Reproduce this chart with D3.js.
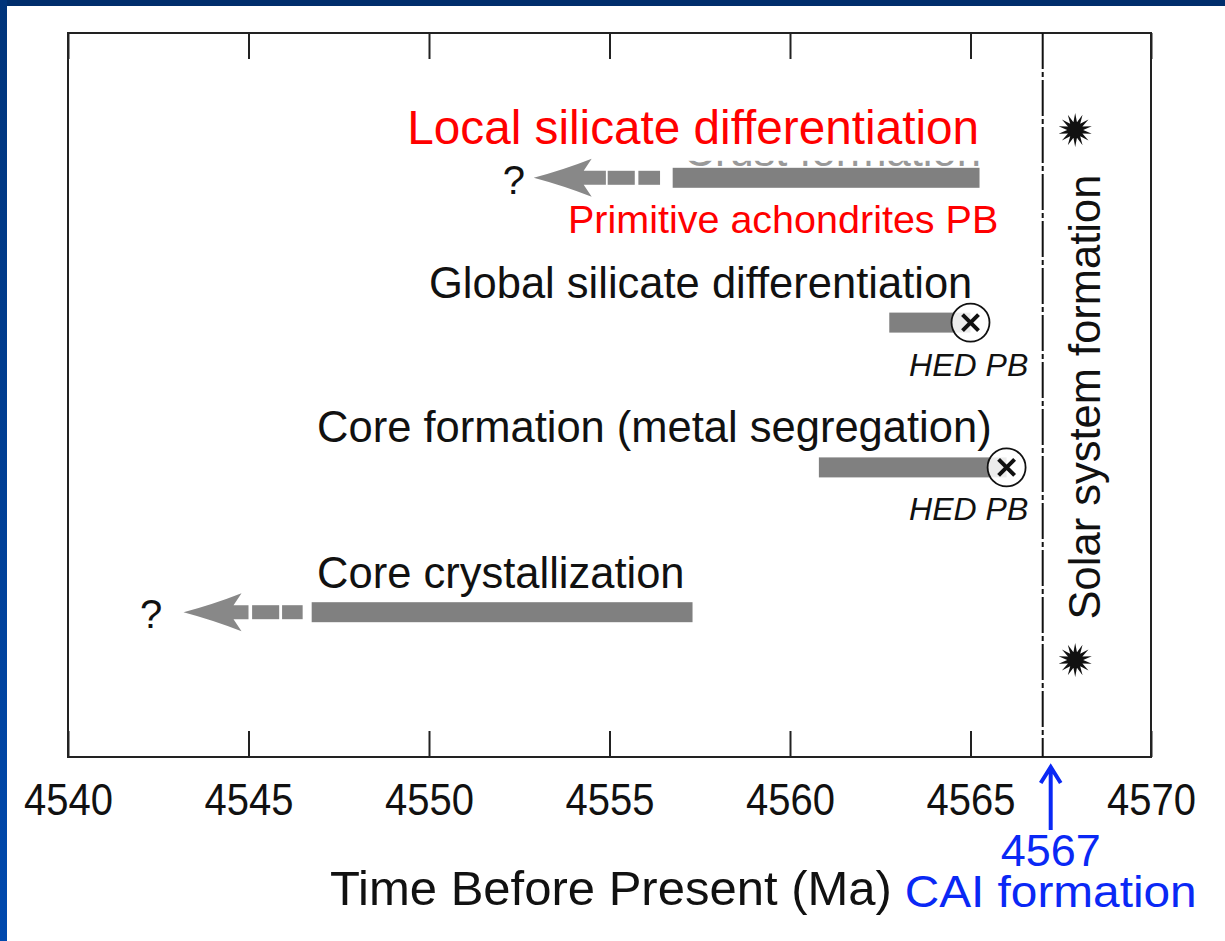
<!DOCTYPE html>
<html>
<head>
<meta charset="utf-8">
<script src="https://cdn.jsdelivr.net/npm/d3@7"></script>
<style>
  body { margin: 0; background: #fff; }
  svg { display: block; }
  text { font-family: "Liberation Sans", Arial, sans-serif; }
</style>
</head>
<body>
<div id="chart"></div>
<script>
// time axis (Ma before present)
var tickValues = [4540, 4545, 4550, 4555, 4560, 4565, 4570];
var caiAge = 4567;

// rows of the timeline, top to bottom
var rowNames = ["Crust formation", "Global silicate differentiation",
                "Core formation (metal segregation)", "Core crystallization"];
var rowIndex = [1, 2, 3, 4];
var barStart = [4556.75, 4562.75, 4560.8, 4546.75];
var barEnd = [4565.25, 4565.0, 4566.0, 4557.3];
var labelStart = [4557.05, 4550.0, 4546.9, 4546.9];
var labelLift = [12, 25, 25, 24];

// open ended (?) rows: arrow tip, end of arrow shaft, dashes, question mark
var arrowRows = [0, 3];
var arrowTip = [4552.9, 4543.2];
var arrowShaftEnd = [4554.9, 4545.0];
var dashes = [[[4554.95, 4555.7], [4555.8, 4556.4]],
              [[4545.1, 4545.85], [4545.93, 4546.5]]];
var questionAt = [4552.35, 4542.3];

// HED parent body markers
var hedRows = [1, 2];
var hedAge = [4565.0, 4566.0];

// starbursts on the solar system formation column
var starAge = 4567.9;
var starRow = [0.67, 4.33];

var width = 1225;
var height = 941;
var padding = {top: 33, right: 74, bottom: 184, left: 68};

var svg = d3.select("#chart").append("svg")
    .attr("width", width)
    .attr("height", height);

// slide border
var grad = svg.append("defs").append("linearGradient")
    .attr("id", "edge").attr("x1", 0).attr("y1", 0).attr("x2", 0).attr("y2", 1);
grad.append("stop").attr("offset", "0%").attr("stop-color", "#00347a");
grad.append("stop").attr("offset", "100%").attr("stop-color", "#0049ae");
svg.append("rect").attr("x", 0).attr("y", 0).attr("width", width).attr("height", 6)
    .attr("fill", "#002e6c");
svg.append("rect").attr("x", 0).attr("y", 0).attr("width", 7).attr("height", height)
    .attr("fill", "url(#edge)");

var x = d3.scaleLinear()
    .domain([4540, 4570])
    .range([padding.left, width - padding.right]);

var y = d3.scaleLinear()
    .domain([0, 5])
    .range([padding.top, height - padding.bottom]);

var plotBottom = height - padding.bottom;

// axes, ticks pointing inward
svg.append("g")
    .attr("transform", "translate(0," + plotBottom + ")")
    .call(d3.axisBottom(x).tickValues(tickValues).tickSizeInner(-26).tickSizeOuter(0)
        .tickPadding(23).tickFormat(d3.format("d")))
    .call(function (g) {
        g.select(".domain").remove();
        g.selectAll(".tick line").attr("stroke", "#222").attr("stroke-width", 2);
        g.selectAll(".tick text").attr("font-size", "40px").attr("fill", "#111")
            .attr("font-family", "Liberation Sans, Arial, sans-serif")
            .attr("transform", "scale(1,1.12)");
    });

svg.append("g")
    .attr("transform", "translate(0," + padding.top + ")")
    .call(d3.axisTop(x).tickValues(tickValues).tickSizeInner(-26).tickSizeOuter(0)
        .tickFormat(""))
    .call(function (g) {
        g.select(".domain").remove();
        g.selectAll(".tick line").attr("stroke", "#222").attr("stroke-width", 2);
    });

// frame
svg.append("rect")
    .attr("x", x(4540)).attr("y", padding.top)
    .attr("width", x(4570) - x(4540)).attr("height", plotBottom - padding.top)
    .attr("fill", "none").attr("stroke", "#222").attr("stroke-width", 2);

// CAI line
svg.append("line")
    .attr("x1", x(caiAge)).attr("x2", x(caiAge))
    .attr("y1", padding.top).attr("y2", plotBottom)
    .attr("stroke", "#111").attr("stroke-width", 2)
    .attr("stroke-dasharray", "36,3,5,3");

// row labels
svg.selectAll(".row_label")
    .data(rowNames)
    .enter()
    .append("text")
    .attr("class", "row_label")
    .attr("x", function (d, i) { return x(labelStart[i]); })
    .attr("y", function (d, i) { return y(rowIndex[i]) - labelLift[i]; })
    .attr("font-size", "43.5px")
    .attr("fill", function (d, i) { return i === 0 ? "#999" : "#111"; })
    .text(function (d) { return d; });

// red label hides most of the crust formation label
var redY = y(rowIndex[0]) - 34;
svg.append("rect")
    .attr("x", x(4549)).attr("y", 95)
    .attr("width", x(4566.5) - x(4549)).attr("height", y(rowIndex[0]) - 17 - 95)
    .attr("fill", "#fff");
svg.append("text")
    .attr("x", x(4549.4)).attr("y", redY)
    .attr("font-size", "47.7px").attr("fill", "#ff0000")
    .text("Local silicate differentiation");
svg.append("text")
    .attr("x", x(4553.85)).attr("y", y(rowIndex[0]) + 55)
    .attr("font-size", "39.5px").attr("fill", "#ff0000")
    .text("Primitive achondrites PB");

// bars
svg.selectAll(".bar")
    .data(rowNames)
    .enter()
    .append("rect")
    .attr("class", "bar")
    .attr("fill", "#808080")
    .attr("x", function (d, i) { return x(barStart[i]); })
    .attr("y", function (d, i) { return y(rowIndex[i]) - 10; })
    .attr("width", function (d, i) { return x(barEnd[i]) - x(barStart[i]); })
    .attr("height", 20);

// dashes and arrows for the open ends
arrowRows.forEach(function (r, k) {
    var cy = y(rowIndex[r]);
    svg.selectAll(".dash" + k)
        .data(dashes[k])
        .enter()
        .append("rect")
        .attr("fill", "#858585")
        .attr("x", function (d) { return x(d[0]); })
        .attr("y", cy - 7)
        .attr("width", function (d) { return x(d[1]) - x(d[0]); })
        .attr("height", 14);

    var tx = x(arrowTip[k]);
    var ex = x(arrowShaftEnd[k]);
    var p = d3.path();
    p.moveTo(tx, cy);
    p.quadraticCurveTo(tx + 30, cy - 8, tx + 58, cy - 19);
    p.lineTo(tx + 50, cy - 7);
    p.lineTo(ex, cy - 7);
    p.lineTo(ex, cy + 7);
    p.lineTo(tx + 50, cy + 7);
    p.lineTo(tx + 58, cy + 19);
    p.quadraticCurveTo(tx + 30, cy + 8, tx, cy);
    p.closePath();
    svg.append("path").attr("d", p.toString()).attr("fill", "#888");

    svg.append("text")
        .attr("x", x(questionAt[k])).attr("y", cy + 16)
        .attr("text-anchor", "middle")
        .attr("font-size", "40px").attr("fill", "#111")
        .text("?");
});

// HED markers
hedRows.forEach(function (r, k) {
    var cx = x(hedAge[k]);
    var cy = y(rowIndex[r]);
    svg.append("circle")
        .attr("cx", cx).attr("cy", cy).attr("r", 19)
        .attr("fill", "#fff").attr("fill-opacity", 0.85)
        .attr("stroke", "#111").attr("stroke-width", 1.8);
    svg.append("path")
        .attr("d", "M" + (cx - 8) + "," + (cy - 8) + "L" + (cx + 8) + "," + (cy + 8) +
            "M" + (cx + 8) + "," + (cy - 8) + "L" + (cx - 8) + "," + (cy + 8))
        .attr("stroke", "#111").attr("stroke-width", 4);
    svg.append("text")
        .attr("x", x(4566.6)).attr("y", cy + 53)
        .attr("text-anchor", "end")
        .attr("font-size", "32px").attr("font-style", "italic").attr("fill", "#111")
        .text("HED PB");
});

// starbursts
var starPoints = [];
for (var i = 0; i < 28; i++) {
    var a = i * Math.PI / 14;
    var rr = i % 2 === 0 ? 17 : 8;
    starPoints.push([rr * Math.sin(a), -rr * Math.cos(a)]);
}
svg.selectAll(".star")
    .data(starRow)
    .enter()
    .append("path")
    .attr("class", "star")
    .attr("d", d3.line()(starPoints) + "Z")
    .attr("fill", "#111")
    .attr("transform", function (d) { return "translate(" + x(starAge) + "," + y(d) + ")"; });

svg.append("text")
    .attr("transform", "translate(" + (x(starAge) + 25) + "," + (y(2.5) + 2) + ") rotate(-90)")
    .attr("text-anchor", "middle")
    .attr("font-size", "43.5px").attr("fill", "#111")
    .text("Solar system formation");

// axis title
svg.append("text")
    .attr("x", 330).attr("y", 905)
    .attr("font-size", "49px").attr("fill", "#111")
    .text("Time Before Present (Ma)");

// CAI annotation
var blue = "#0a28f5";
var ax = x(caiAge) + 8;
svg.append("path")
    .attr("d", "M" + ax + ",830L" + ax + ",767M" + (ax - 10) + ",783L" + ax + ",767L" + (ax + 10) + ",783")
    .attr("fill", "none").attr("stroke", blue).attr("stroke-width", 4);
svg.append("text")
    .attr("x", ax).attr("y", 866)
    .attr("text-anchor", "middle")
    .attr("font-family", "DejaVu Sans Condensed, DejaVu Sans, sans-serif")
    .attr("font-size", "44px").attr("fill", blue)
    .attr("textLength", 100).attr("lengthAdjust", "spacingAndGlyphs")
    .text("4567");
svg.append("text")
    .attr("x", ax).attr("y", 907)
    .attr("text-anchor", "middle")
    .attr("font-family", "DejaVu Sans Condensed, DejaVu Sans, sans-serif")
    .attr("font-size", "44px").attr("fill", blue)
    .attr("textLength", 292).attr("lengthAdjust", "spacingAndGlyphs")
    .text("CAI formation");
</script>
</body>
</html>
